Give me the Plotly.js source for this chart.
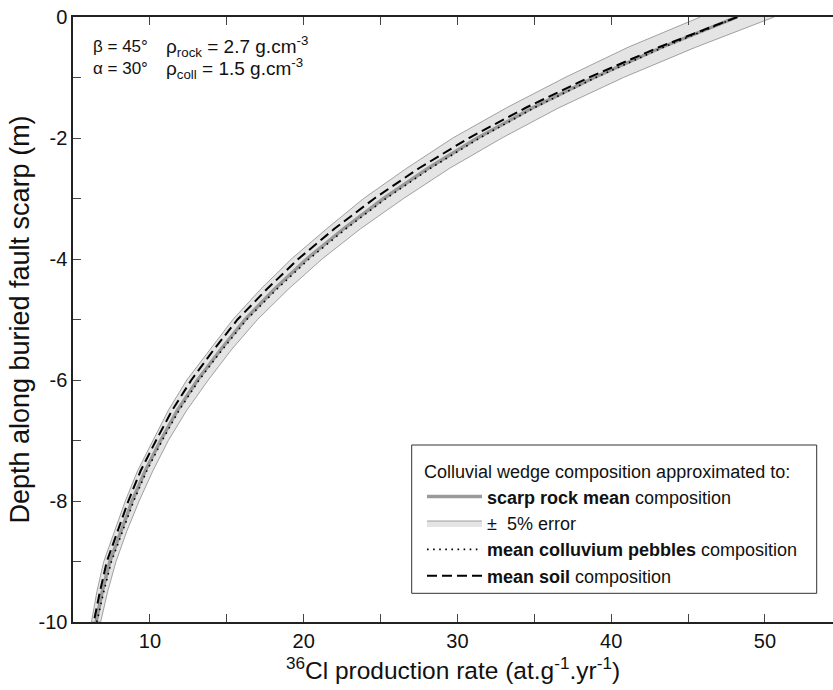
<!DOCTYPE html>
<html>
<head>
<meta charset="utf-8">
<script src="https://cdn.plot.ly/plotly-3.0.1.min.js"></script>
<style>html,body{margin:0;padding:0;background:#fff;}#chart{width:833px;height:690px;}</style>
</head>
<body>
<div id="chart"></div>
<script>
// Depth along buried fault scarp (m)
const depth = [0,-0.5,-1,-1.5,-2,-2.5,-3,-3.5,-4,-4.5,-5,-5.5,-6,-6.5,-7,-7.5,-8,-8.5,-9,-9.5,-10];
// 36Cl production rate (at/g/yr) for each colluvial wedge composition
const rockMean = [48.2,43.3,38.9,34.9,31.3,28.1,25.2,22.6,20.2,18.1,16.2,14.6,13.1,11.8,10.7,9.7,8.85,8.1,7.4,6.9,6.5];
const errLow   = [45.8,41.1,37.0,33.2,29.7,26.7,23.9,21.5,19.2,17.2,15.4,13.9,12.4,11.2,10.2,9.2,8.4,7.7,7.0,6.55,6.2];
const errHigh  = [50.6,45.5,40.8,36.6,32.9,29.5,26.5,23.7,21.2,19.0,17.0,15.3,13.8,12.4,11.2,10.2,9.3,8.5,7.8,7.25,6.8];
const pebbles  = [48.2,43.4,39.0,35.0,31.45,28.25,25.35,22.75,20.35,18.25,16.3,14.7,13.2,11.9,10.8,9.8,8.95,8.2,7.5,7.0,6.55];
const soil     = [48.2,43.1,38.55,34.45,30.75,27.5,24.6,22.0,19.65,17.6,15.7,14.15,12.7,11.45,10.4,9.4,8.6,7.9,7.2,6.75,6.35];
const xTicks = [10,20,30,40,50];
const yTicks = [0,-2,-4,-6,-8,-10];

const FONT = "Liberation Sans, Arial, Helvetica, sans-serif";

const traces = [
  {
    x: errHigh.concat(errLow.slice().reverse()),
    y: depth.concat(depth.slice().reverse()),
    type: 'scatter', mode: 'lines', fill: 'toself',
    fillcolor: '#e4e4e4',
    line: {color: '#8c8c8c', width: 0.8},
    name: '±  5% error', legendrank: 2, hoverinfo: 'skip'
  },
  {
    x: rockMean, y: depth, type: 'scatter', mode: 'lines',
    line: {color: '#9a9a9a', width: 3.5},
    name: '<b>scarp rock mean</b> composition', legendrank: 1
  },
  {
    x: pebbles, y: depth, type: 'scatter', mode: 'lines',
    line: {color: '#000', width: 1.6, dash: '1.6px,4.5px'},
    name: '<b>mean colluvium pebbles</b> composition', legendrank: 3
  },
  {
    x: soil, y: depth, type: 'scatter', mode: 'lines',
    line: {color: '#000', width: 2, dash: '10px,5px'},
    name: '<b>mean soil</b> composition', legendrank: 4
  }
];

const layout = {
  width: 833, height: 690,
  margin: {l: 73, r: 0, t: 17, b: 68},
  paper_bgcolor: '#fff', plot_bgcolor: '#fff',
  font: {family: FONT, color: '#111', size: 20},
  showlegend: true,
  legend: {
    x: (422 - 73) / 760, y: (622 - 455) / 605, xanchor: 'left', yanchor: 'top',
    bgcolor: 'rgba(255,255,255,0)', borderwidth: 0,
    itemwidth: 55,
    font: {family: FONT, size: 18, color: '#111'},
    title: {text: 'Colluvial wedge composition approximated to:', font: {family: FONT, size: 18, color: '#111'}},
    traceorder: 'normal'
  },
  shapes: [
    {type: 'rect', xref: 'paper', yref: 'paper',
     x0: (411.7 - 73) / 760, x1: (816.7 - 73) / 760,
     y0: (622 - 593.3) / 605, y1: (622 - 445) / 605,
     line: {color: '#333', width: 1}, fillcolor: '#fff', layer: 'above'}
  ],
  xaxis: {
    range: [5, 54.43],
    tickvals: xTicks, ticktext: xTicks.map(String),
    ticks: 'inside', ticklen: 8, tickwidth: 1, tickcolor: '#444',
    minor: {dtick: 5, tick0: 0, ticks: 'inside', ticklen: 8, tickwidth: 1, tickcolor: '#444'},
    showline: true, linecolor: '#222', linewidth: 1.6, mirror: 'ticks',
    showgrid: false, zeroline: false,
    tickfont: {size: 20, family: FONT, color: '#111'},
    title: {text: '<sup>36</sup>Cl production rate (at.g<sup>-1</sup>.yr<sup>-1</sup>)', font: {size: 24.5, family: FONT, color: '#111'}, standoff: 11}
  },
  yaxis: {
    range: [-10, 0],
    tickvals: yTicks, ticktext: yTicks.map(String),
    ticks: 'inside', ticklen: 8, tickwidth: 1, tickcolor: '#444',
    minor: {dtick: 1, tick0: 0, ticks: 'inside', ticklen: 8, tickwidth: 1, tickcolor: '#444'},
    showline: true, linecolor: '#222', linewidth: 1.6, mirror: false,
    showgrid: false, zeroline: false,
    tickfont: {size: 20, family: FONT, color: '#111'},
    title: {text: 'Depth along buried fault scarp (m)', font: {size: 27, family: FONT, color: '#111'}, standoff: 1}
  },
  annotations: [
    {xref: 'paper', yref: 'paper', x: (91 - 73) / 760, y: (622 - 47) / 605, xanchor: 'left', yanchor: 'middle', showarrow: false,
     text: 'β = 45°', font: {size: 17, family: FONT, color: '#111'}},
    {xref: 'paper', yref: 'paper', x: (91 - 73) / 760, y: (622 - 69) / 605, xanchor: 'left', yanchor: 'middle', showarrow: false,
     text: 'α = 30°', font: {size: 17, family: FONT, color: '#111'}},
    {xref: 'paper', yref: 'paper', x: (164 - 73) / 760, y: (622 - 47) / 605, xanchor: 'left', yanchor: 'middle', showarrow: false,
     text: 'ρ<sub>rock</sub> = 2.7 g.cm<sup>-3</sup>', font: {size: 19, family: FONT, color: '#111'}},
    {xref: 'paper', yref: 'paper', x: (164 - 73) / 760, y: (622 - 69) / 605, xanchor: 'left', yanchor: 'middle', showarrow: false,
     text: 'ρ<sub>coll</sub> = 1.5 g.cm<sup>-3</sup>', font: {size: 19, family: FONT, color: '#111'}}
  ]
};

Plotly.newPlot('chart', traces, layout, {displayModeBar: false, staticPlot: true});
</script>
</body>
</html>
